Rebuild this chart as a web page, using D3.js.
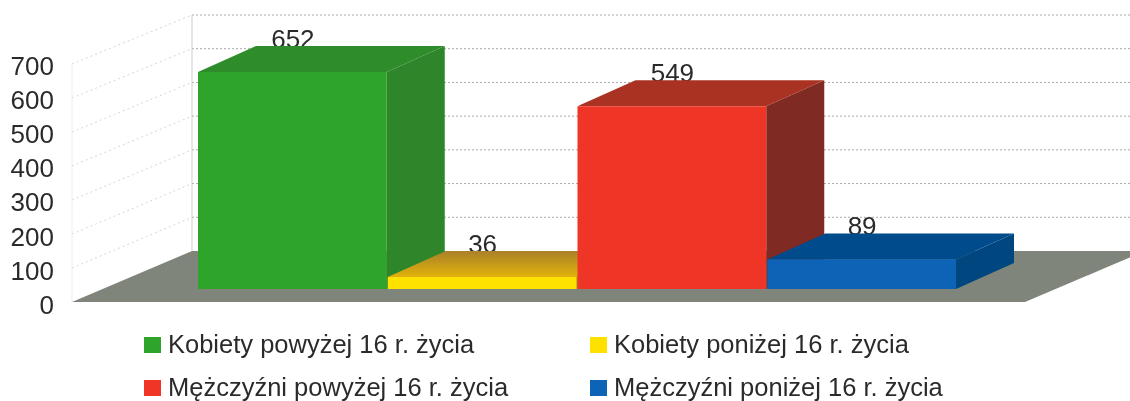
<!DOCTYPE html>
<html>
<head>
<meta charset="utf-8">
<script src="https://cdn.jsdelivr.net/npm/d3@7"></script>
<style>
html, body { margin: 0; background: #fff; overflow: hidden; }
text { font-family: "Liberation Sans", Arial, sans-serif; fill: #2b2b2b; }
</style>
</head>
<body>
<div id="chart"></div>
<script>
var categories = ['Kobiety powyżej 16 r. życia', 'Kobiety poniżej 16 r. życia', 'Mężczyźni powyżej 16 r. życia', 'Mężczyźni poniżej 16 r. życia'];
var values = [652, 36, 549, 89];
var ticks = [0, 100, 200, 300, 400, 500, 600, 700];
var frontColor = ['#2fa52b', '#ffe100', '#ee3526', '#0a63b6'];
var topColor = ['#2f8d2a', 'url(#yellowTop)', '#a93122', '#064b8c'];
var sideColor = ['#2e8529', '#b98a0a', '#7f2a22', '#05467f'];

var width = 1130, height = 401;
var floorFront = 302, floorBack = 251;
var floorLeft = 72, floorRight = 1025, wallX = 192;
var barBase = 289, barDx = 58, barDy = -26;

var svg = d3.select('#chart').append('svg')
	.attr('width', width)
	.attr('height', height);

var defs = svg.append('defs');
defs.append('filter').attr('id', 'soft')
	.append('feGaussianBlur').attr('stdDeviation', 0.6);

// the top of the small yellow bar fades from brown to gold
var yellowTop = defs.append('linearGradient')
	.attr('id', 'yellowTop')
	.attr('x1', 0).attr('y1', 0).attr('x2', 0).attr('y2', 1);
yellowTop.append('stop').attr('offset', '0%').attr('stop-color', '#a9812a');
yellowTop.append('stop').attr('offset', '100%').attr('stop-color', '#e2b20a');

// wall scale (back wall), bar scale, and the tick label scale are a bit different in the 3d view
var yWall = d3.scaleLinear().domain([0, 700]).range([floorBack, 15]);
var ySide = d3.scaleLinear().domain([0, 700]).range([floorFront, 64]);
var yBar = d3.scaleLinear().domain([0, 700]).range([barBase, barBase - 233]);
var yLabel = d3.scaleLinear().domain([0, 700]).range([305, 66]);
var xBar = d3.scaleBand().domain(categories).range([198, 957]);

var g = svg.append('g').attr('filter', 'url(#soft)');

// gridlines on the back wall
g.append('g').selectAll('line.back')
	.data(ticks.slice(1))
	.enter()
	.append('line')
	.attr('x1', wallX)
	.attr('x2', width)
	.attr('y1', d => yWall(d))
	.attr('y2', d => yWall(d))
	.attr('stroke', '#a8a8a8')
	.attr('stroke-dasharray', '2 2');

// gridlines on the left wall
g.append('g').selectAll('line.side')
	.data(ticks.slice(1))
	.enter()
	.append('line')
	.attr('x1', floorLeft)
	.attr('x2', wallX)
	.attr('y1', d => ySide(d))
	.attr('y2', d => yWall(d))
	.attr('stroke', '#d4d4d4')
	.attr('stroke-dasharray', '2 3');

g.append('line')
	.attr('x1', wallX).attr('x2', wallX)
	.attr('y1', yWall(700)).attr('y2', floorBack)
	.attr('stroke', '#cfcfcf');
g.append('line')
	.attr('x1', floorLeft).attr('x2', floorLeft)
	.attr('y1', ySide(700)).attr('y2', floorFront)
	.attr('stroke', '#ececec');

// floor
var floorDx = wallX - floorLeft;
g.append('polygon')
	.attr('points', [[floorLeft, floorFront], [wallX, floorBack], [floorRight + floorDx, floorBack], [floorRight, floorFront]].join(' '))
	.attr('fill', '#7f857a');

// value labels sit behind the bars, the top of the bars cuts them a little
g.append('g').selectAll('text')
	.data(values)
	.enter()
	.append('text')
	.attr('x', (d, i) => xBar(categories[i]) + xBar.bandwidth() / 2)
	.attr('y', d => yBar(d) + barDy + 2)
	.attr('text-anchor', 'middle')
	.style('font-size', '26px')
	.text(d => d);

var bars = g.selectAll('.bar')
	.data(values)
	.enter()
	.append('g')
	.attr('class', 'bar');

bars.append('polygon')
	.attr('points', (d, i) => {
		let x = xBar(categories[i]) + xBar.bandwidth() - 1;
		return [[x, yBar(d)], [x + barDx, yBar(d) + barDy], [x + barDx, barBase + barDy], [x, barBase]].join(' ');
	})
	.attr('fill', (d, i) => sideColor[i]);

bars.append('polygon')
	.attr('points', (d, i) => {
		let x = xBar(categories[i]);
		let w = xBar.bandwidth() - 1;
		return [[x, yBar(d)], [x + barDx, yBar(d) + barDy], [x + w + barDx, yBar(d) + barDy], [x + w, yBar(d)]].join(' ');
	})
	.attr('fill', (d, i) => topColor[i]);

bars.append('rect')
	.attr('x', (d, i) => xBar(categories[i]))
	.attr('y', d => yBar(d))
	.attr('width', xBar.bandwidth() - 1)
	.attr('height', d => barBase - yBar(d))
	.attr('fill', (d, i) => frontColor[i]);

// axis
var axis = d3.axisLeft(yLabel).tickValues(ticks).tickSize(0).tickPadding(0);
var axisG = g.append('g')
	.attr('transform', 'translate(54,0)')
	.call(axis);
axisG.select('.domain').remove();
axisG.selectAll('text').style('font-size', '26px').attr('fill', '#2b2b2b');

// legend
var legendX = [144, 590];
var legendY = [345, 388];
var legend = g.selectAll('.legend')
	.data(categories)
	.enter()
	.append('g')
	.attr('class', 'legend')
	.attr('transform', (d, i) => 'translate(' + legendX[i % 2] + ',' + legendY[Math.floor(i / 2)] + ')');

legend.append('rect')
	.attr('x', 0)
	.attr('y', -8)
	.attr('width', 17)
	.attr('height', 16)
	.attr('fill', (d, i) => frontColor[i]);

legend.append('text')
	.attr('x', 24)
	.attr('y', 7.5)
	.style('font-size', '25.5px')
	.text(d => d);
</script>
</body>
</html>
